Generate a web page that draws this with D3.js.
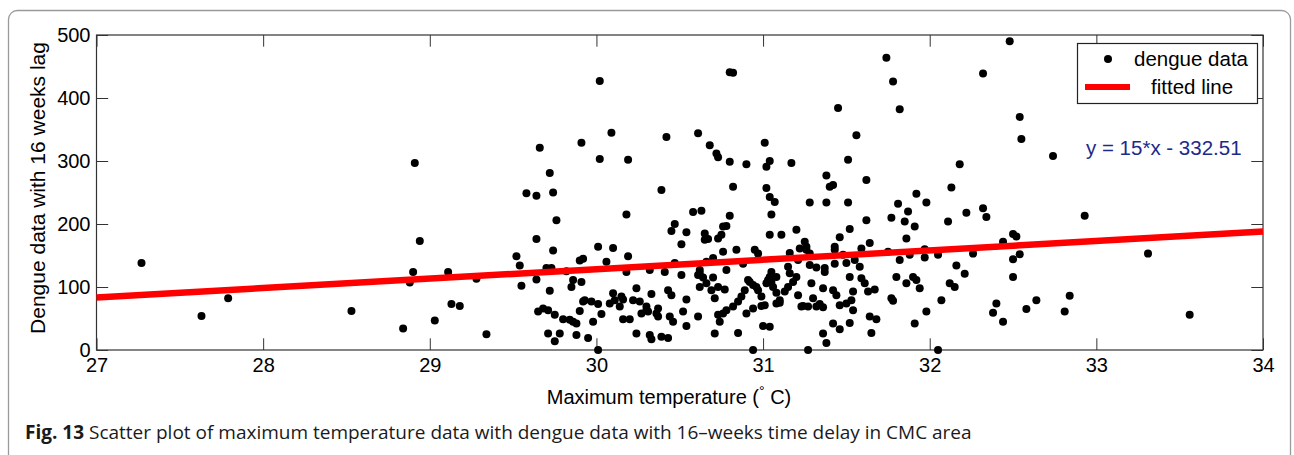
<!DOCTYPE html>
<html>
<head>
<meta charset="utf-8">
<script src="https://cdn.jsdelivr.net/npm/d3@7"></script>
<style>
  body { margin: 0; background: #fff; }
  svg text { font-family: "Liberation Sans", Arial, sans-serif; }
</style>
</head>
<body>
<div id="chart"></div>
<script>
// max temperature (deg C) of each week
const maxTemp = [
  27.27, 27.63, 27.79, 28.53, 28.84, 28.88, 28.90, 28.91, 28.94, 29.03,
  29.11, 29.13, 29.18, 29.28, 29.34, 29.52, 29.54, 29.55, 29.58, 29.64,
  29.64, 29.64, 29.65, 29.66, 29.68, 29.70, 29.71, 29.71, 29.72, 29.72,
  29.73, 29.74, 29.74, 29.75, 29.75, 29.76, 29.78, 29.80, 29.82, 29.84,
  29.85, 29.86, 29.86, 29.88, 29.88, 29.90, 29.90, 29.91, 29.91, 29.92,
  29.92, 29.93, 29.95, 29.97, 29.98, 30.01, 30.01, 30.01, 30.02, 30.02,
  30.03, 30.06, 30.08, 30.09, 30.10, 30.10, 30.11, 30.14, 30.15, 30.16,
  30.16, 30.18, 30.18, 30.19, 30.19, 30.20, 30.22, 30.24, 30.24, 30.26,
  30.27, 30.30, 30.30, 30.31, 30.32, 30.32, 30.33, 30.33, 30.36, 30.37,
  30.37, 30.39, 30.39, 30.41, 30.42, 30.43, 30.43, 30.44, 30.45, 30.45,
  30.46, 30.47, 30.47, 30.51, 30.51, 30.52, 30.54, 30.54, 30.54, 30.58,
  30.61, 30.61, 30.61, 30.62, 30.62, 30.62, 30.63, 30.64, 30.65, 30.65,
  30.66, 30.66, 30.67, 30.68, 30.69, 30.70, 30.70, 30.71, 30.71, 30.72,
  30.73, 30.73, 30.73, 30.73, 30.74, 30.75, 30.76, 30.76, 30.76, 30.77,
  30.78, 30.78, 30.78, 30.80, 30.82, 30.80, 30.80, 30.82, 30.82, 30.84,
  30.85, 30.85, 30.87, 30.88, 30.89, 30.90, 30.90, 30.91, 30.92, 30.94,
  30.94, 30.94, 30.95, 30.96, 30.97, 30.97, 30.99, 30.99, 31.00, 31.01,
  31.01, 31.02, 31.02, 31.02, 31.03, 31.04, 31.04, 31.04, 31.04, 31.04,
  31.05, 31.05, 31.05, 31.06, 31.07, 31.08, 31.08, 31.08, 31.10, 31.10,
  31.11, 31.13, 31.15, 31.15, 31.16, 31.16, 31.17, 31.18, 31.20, 31.20,
  31.21, 31.21, 31.22, 31.23, 31.24, 31.25, 31.26, 31.26, 31.27, 31.27,
  31.28, 31.28, 31.28, 31.29, 31.30, 31.32, 31.32, 31.34, 31.36, 31.36,
  31.36, 31.37, 31.37, 31.38, 31.38, 31.38, 31.40, 31.42, 31.42, 31.42,
  31.43, 31.43, 31.43, 31.44, 31.45, 31.46, 31.46, 31.46, 31.48, 31.50,
  31.50, 31.51, 31.51, 31.52, 31.52, 31.52, 31.53, 31.54, 31.54, 31.55,
  31.56, 31.58, 31.59, 31.59, 31.61, 31.62, 31.62, 31.63, 31.64, 31.64,
  31.65, 31.67, 31.68, 31.74, 31.75, 31.77, 31.77, 31.78, 31.78, 31.80,
  31.81, 31.82, 31.82, 31.85, 31.86, 31.86, 31.87, 31.88, 31.90, 31.91,
  31.91, 31.92, 31.92, 31.94, 31.97, 31.97, 31.98, 31.98, 32.05, 32.05,
  32.07, 32.11, 32.12, 32.13, 32.15, 32.16, 32.18, 32.21, 32.22, 32.26,
  32.32, 32.32, 32.34, 32.38, 32.40, 32.44, 32.44, 32.48, 32.50, 32.50,
  32.50, 32.52, 32.54, 32.54, 32.55, 32.58, 32.64, 32.74, 32.81, 32.84,
  32.93, 33.31, 33.56
];
// dengue cases 16 weeks later
const dengueLag = [
  138, 54, 82, 62, 34, 107, 124, 297, 173, 47,
  124, 73, 70, 113, 25, 149, 134, 102, 249, 245,
  176, 112, 61, 321, 66, 130, 63, 26, 281, 94,
  130, 250, 158, 56, 14, 206, 26, 49, 125, 48,
  100, 111, 45, 24, 42, 62, 142, 108, 329, 145,
  77, 79, 19, 77, 45, 164, 73, 0, 427, 303,
  57, 140, 74, 345, 162, 90, 79, 69, 85, 80,
  49, 215, 124, 302, 149, 49, 79, 98, 26, 77,
  58, 63, 69, 61, 24, 127, 17, 89, 58, 66,
  53, 254, 21, 124, 338, 19, 95, 53, 87, 189,
  45, 200, 138, 168, 119, 61, 187, 80, 38, 219,
  344, 119, 53, 122, 100, 127, 221, 115, 185, 175,
  106, 140, 176, 325, 95, 146, 115, 82, 26, 312,
  306, 100, 177, 56, 45, 183, 196, 156, 58, 96,
  197, 127, 63, 441, 440, 299, 213, 259, 69, 159,
  77, 27, 85, 137, 95, 295, 58, 111, 108, 66,
  103, 0, 159, 100, 153, 95, 70, 85, 38, 329,
  71, 291, 257, 106, 111, 300, 243, 183, 116, 37,
  124, 215, 108, 100, 235, 91, 74, 116, 75, 79,
  183, 93, 132, 100, 154, 122, 297, 108, 116, 191,
  143, 87, 161, 69, 70, 172, 164, 159, 69, 0,
  234, 135, 153, 106, 82, 131, 69, 73, 68, 98,
  26, 130, 124, 277, 234, 11, 259, 262, 95, 42,
  164, 159, 137, 87, 384, 179, 71, 33, 151, 138,
  74, 302, 234, 192, 116, 43, 79, 93, 63, 143,
  341, 132, 161, 114, 106, 270, 206, 93, 170, 53,
  27, 96, 49, 464, 156, 210, 82, 426, 78, 116,
  232, 382, 143, 204, 177, 106, 220, 151, 116, 196,
  42, 248, 111, 98, 160, 147, 234, 61, 151, 0,
  79, 204, 106, 258, 100, 134, 295, 121, 218, 153,
  439, 225, 211, 59, 74, 172, 45, 490, 184, 144,
  116, 180, 370, 152, 335, 65, 79, 308, 61, 86,
  213, 153, 56
];

const xTicks = [27, 28, 29, 30, 31, 32, 33, 34];
const yTicks = [0, 100, 200, 300, 400, 500];

// fitted line as drawn in the figure (ends at x = 27 and x = 34)
const fitX = [27, 34];
const fitY = [83.5, 188];
const fitLabel = "y = 15*x - 332.51";

const width = 1294;
const height = 455;
const plotLeft = 96.5, plotRight = 1263, plotTop = 35, plotBottom = 350;
const tickLen = 11.7;
const dotR = 4;

const svg = d3.select("#chart")
  .append("svg")
  .attr("width", width)
  .attr("height", height);

// outer figure frame
svg.append("rect")
  .attr("x", 8.5).attr("y", 10.5)
  .attr("width", 1282).attr("height", 470)
  .attr("rx", 9)
  .attr("fill", "none")
  .attr("stroke", "#9a9a9a")
  .attr("stroke-width", 1.3);

const x = d3.scaleLinear().domain([27, 34]).range([plotLeft, plotRight]);
const y = d3.scaleLinear().domain([0, 500]).range([plotBottom, plotTop]);

function styleAxis(g) {
  g.select(".domain").remove();
  g.selectAll(".tick line").attr("stroke", "#333").attr("stroke-width", 1);
  g.selectAll("text").attr("fill", "#000");
  g.attr("font-size", 20).attr("font-family", "Liberation Sans, Arial, sans-serif");
}

svg.append("g")
  .attr("transform", "translate(0," + plotBottom + ")")
  .call(d3.axisBottom(x).tickValues(xTicks).tickSizeInner(-tickLen).tickSizeOuter(0)
    .tickPadding(8).tickFormat(d3.format("d")))
  .call(styleAxis);

svg.append("g")
  .attr("transform", "translate(0," + plotTop + ")")
  .call(d3.axisTop(x).tickValues(xTicks).tickSizeInner(-tickLen).tickSizeOuter(0).tickFormat(""))
  .call(styleAxis);

svg.append("g")
  .attr("transform", "translate(" + plotLeft + ",0)")
  .call(d3.axisLeft(y).tickValues(yTicks).tickSizeInner(-tickLen).tickSizeOuter(0)
    .tickPadding(6).tickFormat(d3.format("d")))
  .call(styleAxis);

svg.append("g")
  .attr("transform", "translate(" + plotRight + ",0)")
  .call(d3.axisRight(y).tickValues(yTicks).tickSizeInner(-tickLen).tickSizeOuter(0).tickFormat(""))
  .call(styleAxis);

// axes box
svg.append("rect")
  .attr("x", plotLeft).attr("y", plotTop)
  .attr("width", plotRight - plotLeft).attr("height", plotBottom - plotTop)
  .attr("fill", "none")
  .attr("stroke", "#333")
  .attr("stroke-width", 1.2);

// scatter points
svg.append("g")
  .selectAll("circle")
  .data(maxTemp)
  .enter()
  .append("circle")
  .attr("cx", d => x(d))
  .attr("cy", (d, i) => y(dengueLag[i]))
  .attr("r", dotR)
  .attr("fill", "#000");

// fitted line
const line = d3.line().x(d => x(d[0])).y(d => y(d[1]));
svg.append("path")
  .datum(fitX.map((v, i) => [v, fitY[i]]))
  .attr("d", line)
  .attr("fill", "none")
  .attr("stroke", "#ff0000")
  .attr("stroke-width", 6.5);

// equation
svg.append("text")
  .attr("x", 1086).attr("y", 155)
  .attr("font-size", 20.5)
  .attr("fill", "#1c2a8c")
  .text(fitLabel);

// legend
const legend = svg.append("g");
legend.append("rect")
  .attr("x", 1077.5).attr("y", 43.5)
  .attr("width", 180).attr("height", 60)
  .attr("fill", "#fff")
  .attr("stroke", "#222")
  .attr("stroke-width", 1.2);
legend.append("circle")
  .attr("cx", 1108).attr("cy", 59).attr("r", dotR).attr("fill", "#000");
legend.append("text")
  .attr("x", 1134).attr("y", 66)
  .attr("font-size", 20.5)
  .text("dengue data");
legend.append("line")
  .attr("x1", 1085).attr("x2", 1130)
  .attr("y1", 87).attr("y2", 87)
  .attr("stroke", "#ff0000")
  .attr("stroke-width", 6);
legend.append("text")
  .attr("x", 1151).attr("y", 94)
  .attr("font-size", 20.5)
  .text("fitted line");

// axis titles
const xTitle = svg.append("text")
  .attr("x", 669).attr("y", 404)
  .attr("text-anchor", "middle")
  .attr("font-size", 20);
xTitle.append("tspan").text("Maximum temperature (");
xTitle.append("tspan").attr("dy", -8).attr("font-size", 14).text("°");
xTitle.append("tspan").attr("dy", 8).text(" C)");

svg.append("text")
  .attr("transform", "translate(45,188) rotate(-90)")
  .attr("text-anchor", "middle")
  .attr("font-size", 21)
  .text("Dengue data with 16 weeks lag");

// caption
const caption = svg.append("text")
  .attr("x", 25).attr("y", 439)
  .attr("font-size", 19)
  .style("font-family", "'Open Sans', 'Noto Sans', sans-serif")
  .attr("fill", "#1a1a1a");
caption.append("tspan").attr("font-weight", "bold").text("Fig. 13");
caption.append("tspan").text(" Scatter plot of maximum temperature data with dengue data with 16–weeks time delay in CMC area");
</script>
</body>
</html>
